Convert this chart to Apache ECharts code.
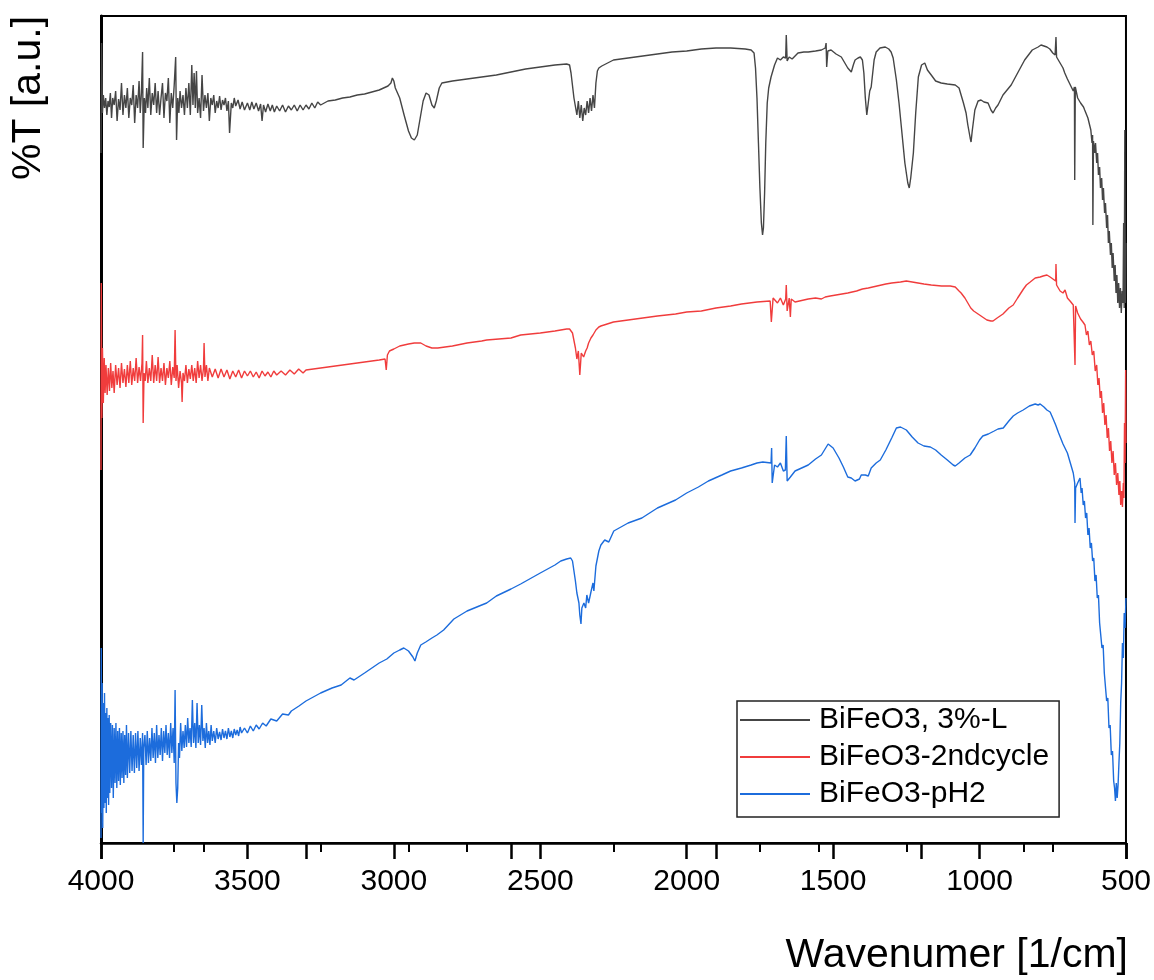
<!DOCTYPE html>
<html>
<head>
<meta charset="utf-8">
<script src="https://cdn.jsdelivr.net/npm/echarts@6/dist/echarts.min.js"></script>
<style>html,body{margin:0;padding:0;background:#fff}#c{width:1154px;height:980px}</style>
</head>
<body>
<div id="c"></div>
<script>
const seriesNames = ['BiFeO3, 3%-L', 'BiFeO3-2ndcycle', 'BiFeO3-pH2'];
const xTickLabels = [4000, 3500, 3000, 2500, 2000, 1500, 1000, 500];
const xTitle = 'Wavenumer [1/cm]';
const yTitle = '%T [a.u.]';

// [wavenumber (1/cm), %T in arbitrary units]
const seriesBlack = [
[4000,690],[3998,800],[3995,730],[3992,748],[3988,735],[3984,745],[3980,728],[3976,742],[3972,736],[3968,750],[3964,725],[3960,745],[3955,738],[3950,752],[3945,722],[3940,744],[3935,733],[3930,760],[3925,728],[3920,748],[3915,735],[3910,755],[3905,725],[3900,745],[3895,738],[3890,758],[3885,720],[3880,748],[3875,735],[3870,762],[3866,730],[3862,750],[3858,791],[3856,695],[3852,745],[3848,730],[3844,755],[3840,735],[3835,765],[3830,728],[3825,750],[3820,738],[3815,760],[3810,730],[3805,752],[3800,728],[3795,745],[3790,760],[3785,725],[3780,750],[3775,742],[3770,765],[3765,720],[3760,750],[3755,735],[3750,758],[3745,786],[3742,703],[3738,745],[3734,730],[3730,752],[3725,735],[3720,748],[3715,728],[3710,755],[3705,735],[3700,760],[3695,728],[3690,778],[3686,738],[3682,770],[3678,735],[3674,772],[3670,730],[3665,745],[3660,725],[3655,768],[3650,732],[3645,748],[3640,735],[3635,750],[3630,722],[3625,745],[3620,738],[3615,748],[3610,730],[3605,742],[3600,735],[3595,747],[3590,733],[3585,743],[3580,738],[3575,745],[3570,732],[3565,742],[3561,710],[3555,740],[3550,735],[3545,745],[3540,737],[3532,743],[3525,734],[3518,741],[3510,733],[3500,740],[3492,733],[3485,741],[3478,734],[3470,740],[3462,732],[3455,739],[3450,722],[3445,738],[3438,731],[3430,739],[3422,732],[3415,738],[3408,731],[3400,737],[3390,732],[3380,738],[3370,731],[3360,737],[3350,733],[3340,738],[3330,732],[3320,738],[3310,733],[3300,738],[3290,734],[3280,740],[3270,735],[3260,741],[3250,738],[3225,742],[3200,743],[3175,745],[3150,746],[3125,748],[3100,749],[3075,751],[3050,753],[3020,757],[3010,760],[3005,765],[3000,762],[2995,755],[2980,745],[2965,728],[2950,712],[2940,705],[2930,703],[2920,708],[2910,725],[2900,742],[2890,750],[2880,748],[2870,738],[2862,735],[2855,742],[2845,755],[2836,760],[2800,762],[2750,764],[2700,766],[2650,768],[2600,771],[2550,774],[2500,776],[2450,778],[2410,779],[2400,778],[2395,770],[2385,745],[2375,728],[2370,742],[2365,725],[2360,738],[2355,722],[2350,735],[2345,728],[2340,742],[2335,730],[2330,745],[2325,732],[2320,748],[2315,735],[2310,760],[2305,772],[2300,775],[2290,777],[2270,780],[2250,783],[2200,785],[2150,787],[2100,789],[2050,791],[2000,792],[1950,794],[1900,795],[1850,795],[1800,794],[1780,793],[1770,790],[1765,775],[1760,745],[1755,700],[1750,655],[1745,620],[1741,608],[1738,615],[1734,650],[1730,700],[1725,740],[1720,755],[1712,766],[1700,778],[1690,785],[1680,783],[1670,786],[1662,785],[1660,808],[1657,782],[1650,786],[1640,784],[1620,790],[1600,791],[1585,791],[1560,792],[1540,793],[1527,795],[1524,800],[1522,776],[1518,792],[1507,793],[1490,789],[1472,786],[1460,780],[1450,775],[1438,771],[1430,779],[1425,783],[1415,785],[1407,786],[1400,783],[1395,770],[1390,745],[1385,728],[1380,730],[1375,752],[1370,756],[1360,783],[1353,791],[1340,795],[1322,796],[1310,794],[1302,791],[1295,785],[1284,763],[1275,740],[1267,716],[1255,680],[1245,660],[1240,655],[1235,665],[1226,690],[1218,730],[1209,766],[1198,778],[1187,780],[1178,773],[1165,768],[1150,762],[1131,760],[1110,759],[1083,758],[1070,755],[1063,748],[1055,740],[1046,730],[1040,718],[1032,705],[1029,701],[1025,712],[1016,733],[1005,742],[995,743],[985,741],[971,740],[961,733],[954,730],[945,735],[937,738],[920,748],[892,758],[870,770],[846,783],[820,793],[800,796],[790,798],[780,797],[770,796],[760,794],[756,795],[750,790],[742,788],[739,806],[737,786],[725,780],[715,775],[709,770],[700,764],[690,758],[680,752],[676,756],[675,663],[673,756],[665,745],[655,740],[645,736],[641,733],[630,725],[620,713],[616,700],[614,708],[613,618],[611,702],[607,690],[604,700],[600,680],[597,690],[594,668],[590,676],[587,655],[583,665],[580,643],[577,655],[573,630],[570,640],[566,615],[563,628],[560,600],[557,612],[553,588],[550,600],[547,575],[544,590],[540,562],[537,578],[534,550],[531,568],[528,540],[525,560],[522,535],[519,555],[516,530],[513,552],[510,540],[508,620],[506,535],[504,713],[502,540],[500,600]
];

const seriesRed = [
[4000,373],[3999,560],[3997,425],[3995,495],[3992,440],[3989,485],[3986,450],[3983,478],[3979,448],[3975,475],[3971,452],[3967,480],[3963,455],[3959,472],[3955,450],[3950,478],[3945,458],[3940,475],[3935,455],[3930,480],[3925,460],[3920,474],[3915,456],[3910,478],[3905,460],[3900,482],[3895,458],[3890,475],[3885,462],[3880,485],[3875,460],[3870,476],[3865,462],[3860,480],[3858,508],[3856,420],[3853,470],[3849,462],[3845,482],[3840,460],[3835,475],[3830,462],[3825,488],[3820,460],[3815,478],[3810,462],[3805,486],[3800,460],[3795,475],[3790,462],[3785,480],[3780,458],[3775,475],[3770,465],[3765,482],[3760,458],[3755,476],[3750,465],[3747,513],[3744,462],[3740,478],[3735,455],[3730,472],[3725,460],[3723,441],[3720,470],[3715,462],[3710,478],[3705,460],[3700,474],[3695,464],[3690,478],[3685,462],[3680,475],[3675,460],[3670,482],[3665,465],[3660,478],[3655,462],[3650,475],[3648,500],[3645,466],[3640,478],[3635,462],[3630,475],[3620,466],[3610,474],[3600,465],[3590,474],[3580,466],[3570,473],[3560,464],[3550,472],[3540,466],[3530,473],[3520,465],[3510,472],[3500,467],[3490,472],[3480,466],[3470,471],[3460,465],[3450,472],[3440,467],[3430,471],[3420,466],[3410,472],[3400,468],[3385,472],[3370,468],[3355,473],[3340,469],[3325,474],[3310,470],[3300,473],[3250,475],[3200,477],[3150,479],[3100,481],[3050,483],[3030,484],[3026,473],[3022,488],[3015,492],[3000,494],[2980,497],[2950,499],[2930,500],[2908,500],[2890,497],[2870,495],[2850,495],[2800,497],[2750,500],[2700,502],[2683,503],[2600,505],[2567,508],[2500,510],[2450,512],[2410,514],[2400,514],[2390,510],[2380,495],[2375,484],[2370,492],[2365,468],[2360,490],[2352,486],[2345,492],[2340,495],[2335,500],[2327,505],[2320,508],[2310,513],[2300,516],[2293,517],[2250,521],[2200,523],[2150,525],[2100,527],[2038,529],[2000,531],[1950,532],[1900,535],[1850,537],[1813,539],[1760,541],[1715,542],[1711,521],[1705,545],[1690,540],[1680,545],[1670,538],[1662,544],[1660,558],[1657,532],[1650,545],[1646,526],[1643,544],[1630,541],[1600,543],[1585,544],[1560,545],[1540,544],[1527,546],[1510,547],[1490,548],[1470,549],[1450,550],[1420,552],[1400,554],[1380,555],[1350,557],[1320,559],[1300,560],[1270,561],[1250,562],[1230,561],[1210,560],[1190,559],[1165,558],[1130,557],[1100,557],[1083,556],[1070,552],[1063,550],[1050,545],[1040,540],[1030,535],[1020,532],[1005,529],[990,526],[975,523],[961,522],[954,522],[940,525],[920,529],[900,535],[885,538],[870,545],[850,554],[840,558],[827,561],[810,565],[793,566],[783,567],[770,568],[759,566],[756,568],[740,562],[739,579],[737,558],[725,552],[715,550],[708,553],[700,545],[691,542],[680,538],[675,540],[674,478],[672,537],[665,530],[655,524],[647,521],[640,518],[635,508],[630,512],[625,498],[620,502],[615,488],[610,492],[605,472],[600,478],[596,458],[592,465],[588,445],[584,452],[580,430],[576,440],[572,418],[568,428],[564,405],[560,415],[556,392],[552,402],[548,380],[544,392],[540,368],[536,380],[532,358],[528,370],[524,348],[521,362],[518,338],[515,352],[512,336],[509,360],[507,345],[505,420],[503,380],[501,473],[500,400]
];

const seriesBlue = [
[4000,5],[3999,195],[3998,30],[3996,160],[3994,15],[3992,140],[3990,35],[3988,150],[3986,40],[3984,130],[3982,30],[3980,135],[3978,45],[3976,125],[3974,38],[3972,128],[3970,50],[3967,120],[3964,55],[3961,118],[3958,45],[3955,115],[3952,60],[3949,120],[3946,55],[3943,112],[3940,62],[3937,115],[3934,58],[3931,110],[3928,65],[3925,112],[3922,60],[3919,108],[3916,68],[3913,118],[3910,65],[3906,110],[3902,70],[3898,112],[3894,72],[3890,108],[3886,70],[3882,110],[3878,75],[3874,112],[3870,72],[3866,105],[3862,78],[3858,110],[3856,0],[3854,95],[3850,108],[3846,78],[3842,112],[3838,80],[3834,105],[3830,82],[3826,115],[3822,85],[3818,110],[3814,80],[3810,118],[3806,85],[3802,108],[3798,88],[3794,115],[3790,82],[3786,112],[3782,90],[3778,118],[3774,88],[3770,110],[3766,85],[3762,120],[3758,90],[3754,115],[3750,80],[3747,153],[3744,60],[3741,40],[3738,55],[3735,100],[3732,85],[3728,120],[3724,92],[3720,112],[3716,95],[3712,118],[3708,96],[3704,125],[3700,100],[3696,115],[3692,96],[3688,143],[3684,100],[3680,120],[3676,95],[3672,140],[3668,100],[3664,118],[3660,98],[3656,138],[3652,102],[3648,115],[3644,95],[3640,120],[3636,100],[3632,112],[3628,98],[3624,118],[3620,102],[3615,112],[3610,100],[3605,115],[3600,104],[3595,111],[3590,103],[3585,114],[3580,105],[3575,112],[3570,104],[3565,115],[3560,106],[3555,112],[3550,105],[3545,114],[3540,108],[3535,113],[3530,107],[3525,116],[3520,110],[3510,115],[3500,110],[3490,117],[3480,112],[3470,118],[3460,114],[3448,120],[3436,117],[3420,124],[3400,122],[3380,129],[3360,128],[3350,132],[3324,137],[3300,142],[3250,150],[3211,155],[3180,158],[3150,165],[3136,163],[3100,170],[3050,180],[3024,184],[3000,190],[2980,193],[2966,195],[2950,192],[2935,186],[2928,182],[2920,190],[2908,198],[2891,201],[2870,205],[2853,208],[2830,213],[2795,224],[2750,232],[2700,238],[2683,240],[2650,247],[2600,254],[2567,259],[2500,270],[2450,278],[2430,282],[2410,284],[2396,285],[2390,282],[2380,262],[2375,250],[2368,240],[2365,228],[2361,219],[2358,235],[2351,240],[2345,235],[2341,248],[2335,240],[2327,251],[2320,260],[2317,252],[2310,277],[2300,292],[2293,298],[2280,303],[2266,301],[2249,312],[2200,320],[2153,325],[2100,335],[2038,343],[2000,350],[1960,356],[1926,362],[1880,368],[1850,372],[1813,375],[1780,378],[1760,380],[1740,381],[1712,380],[1710,395],[1708,360],[1700,378],[1690,376],[1680,380],[1670,372],[1663,373],[1660,407],[1657,362],[1646,366],[1630,372],[1600,376],[1585,378],[1560,384],[1540,388],[1517,399],[1500,395],[1480,385],[1465,376],[1450,366],[1438,365],[1425,362],[1410,364],[1404,368],[1390,368],[1380,367],[1370,375],[1353,380],[1339,383],[1320,393],[1300,405],[1284,415],[1270,416],[1250,413],[1230,406],[1210,400],[1190,397],[1168,396],[1150,393],[1131,388],[1110,383],[1090,378],[1083,377],[1070,380],[1050,385],[1032,388],[1016,395],[1000,403],[989,407],[970,409],[950,412],[937,414],[919,415],[900,422],[885,427],[870,430],[851,433],[830,437],[810,439],[800,438],[793,439],[780,436],[770,433],[759,431],[750,425],[740,418],[730,410],[715,399],[700,390],[690,380],[680,370],[675,360],[674,320],[672,355],[665,360],[657,365],[653,350],[650,355],[646,338],[642,342],[638,325],[634,330],[630,308],[626,315],[622,295],[618,300],[614,282],[610,285],[606,262],[602,268],[598,245],[594,248],[590,220],[586,222],[582,195],[578,198],[574,170],[570,172],[566,142],[562,145],[558,115],[554,118],[550,88],[546,92],[542,62],[539,55],[536,42],[533,60],[530,45],[527,58],[524,80],[521,100],[518,140],[515,160],[512,200],[509,185],[506,230],[503,215],[500,245]
];

const seriesColors = ['#454545', '#f03c3c', '#1c6cdc'];
const seriesData = [seriesBlack, seriesRed, seriesBlue];

const FONT = '"Liberation Sans", Arial, sans-serif';
const chart = echarts.init(document.getElementById('c'), null, {renderer: 'canvas'});

const baseX = {
  type: 'value', min: 500, max: 4000, inverse: true, position: 'bottom',
  splitLine: {show: false}
};

chart.setOption({
  animation: false,
  backgroundColor: '#fff',
  grid: {left: 101, right: 26, top: 16, bottom: 137, show: true, borderColor: '#000', borderWidth: 2, backgroundColor: 'transparent'},
  xAxis: [
    Object.assign({}, baseX, {
      interval: 500,
      axisLine: {show: true, lineStyle: {color: '#000', width: 2.5}},
      axisTick: {show: true, inside: false, length: 16, lineStyle: {color: '#000', width: 2.5}},
      minorTick: {show: true, splitNumber: 2, length: 9, lineStyle: {color: '#000', width: 2}},
      axisLabel: {show: true, fontSize: 30, color: '#000', fontFamily: FONT, margin: 24,
        formatter: function (v) { return xTickLabels.indexOf(v) >= 0 ? String(v) : ''; }}
    }),
    Object.assign({}, baseX, {
      interval: 700,
      axisLine: {show: false},
      axisTick: {show: true, inside: false, length: 16, lineStyle: {color: '#000', width: 2.5}},
      minorTick: {show: true, splitNumber: 2, length: 9, lineStyle: {color: '#000', width: 2}},
      axisLabel: {show: false}
    })
  ],
  yAxis: {
    type: 'value', min: 0, max: 827,
    axisLine: {show: true, lineStyle: {color: '#000', width: 3}},
    axisTick: {show: false}, axisLabel: {show: false}, splitLine: {show: false}
  },
  legend: {
    orient: 'vertical', left: 737, top: 701,
    padding: [4, 10, 8, 3],
    icon: 'rect',
    itemWidth: 70, itemHeight: 2, itemGap: 7,
    borderColor: '#222', borderWidth: 1.5, backgroundColor: '#fff',
    textStyle: {fontSize: 30, color: '#000', fontFamily: FONT, lineHeight: 30, padding: [0, 0, 0, 4]},
    data: seriesNames
  },
  graphic: [
    {type: 'text', x: 1128, y: 956, silent: true,
      style: {text: xTitle, fontSize: 41, fontFamily: FONT, fill: '#000', align: 'right', verticalAlign: 'middle'}},
    {type: 'text', x: 29, y: 98, rotation: Math.PI / 2, silent: true,
      style: {text: yTitle, fontSize: 41, fontFamily: FONT, fill: '#000', align: 'center', verticalAlign: 'middle'}}
  ],
  series: seriesNames.map((name, i) => ({
    name: name, type: 'line', xAxisIndex: 0, yAxisIndex: 0,
    data: seriesData[i], symbol: 'none', showSymbol: false,
    lineStyle: {color: seriesColors[i], width: 1.4},
    itemStyle: {color: seriesColors[i]},
    z: 3 - i
  }))
});
</script>
</body>
</html>
